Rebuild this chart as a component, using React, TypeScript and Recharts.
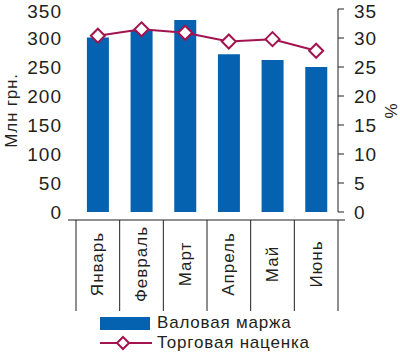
import React from "react";
import {
  ComposedChart,
  Bar,
  Line,
  XAxis,
  YAxis,
  Legend,
} from "recharts";

const months = ["Январь", "Февраль", "Март", "Апрель", "Май", "Июнь"];
const grossMargin = [301, 312, 331, 272, 262, 250];
const tradeMarkup = [30.4, 31.5, 30.9, 29.4, 29.8, 27.8];
const leftTicks = [0, 50, 100, 150, 200, 250, 300, 350];
const rightTicks = [0, 5, 10, 15, 20, 25, 30, 35];

const data = months.map((month, i) => ({
  month,
  margin: grossMargin[i],
  markup: tradeMarkup[i],
}));

const BAR = "#0562b0";
const LINE = "#a3134f";
const TEXT = "#231f20";
const FONT = "'Liberation Sans', Arial, sans-serif";

function MonthTick(props: any) {
  const { x, y, payload, index, visibleTicksCount } = props;
  const half = payload && payload.offset ? payload.offset : 21.8;
  const left = x - half;
  const right = x + half;
  const last = index === visibleTicksCount - 1;
  return (
    <g>
      <line x1={index === 0 ? left - 8 : left} x2={last ? right + 7 : right} y1={y} y2={y} stroke={TEXT} strokeWidth={1} />
      <line x1={left} x2={left} y1={y} y2={y + 91} stroke={TEXT} strokeWidth={1} />
      {last && <line x1={right} x2={right} y1={y} y2={y + 91} stroke={TEXT} strokeWidth={1} />}
      <text
        x={x}
        y={y + 44}
        transform={`rotate(-90 ${x} ${y + 44})`}
        textAnchor="middle"
        dominantBaseline="central"
        fill={TEXT}
        fontSize={17}
        letterSpacing={1}
        fontFamily={FONT}
      >
        {payload.value}
      </text>
    </g>
  );
}

function AxisTitle(props: any) {
  const { viewBox, value, dx } = props;
  const cx = viewBox.x + dx;
  const cy = viewBox.y + viewBox.height / 2;
  return (
    <text
      x={cx}
      y={cy}
      transform={`rotate(-90 ${cx} ${cy})`}
      textAnchor="middle"
      dominantBaseline="central"
      fill={TEXT}
      fontSize={17}
      letterSpacing={0.8}
      fontFamily={FONT}
    >
      {value}
    </text>
  );
}

function LegendBox() {
  return (
    <div style={{ height: 54, position: "relative", fontFamily: FONT, color: TEXT, fontSize: 17, letterSpacing: 0.8 }}>
      <div style={{ position: "absolute", left: 100, top: 10, display: "flex", alignItems: "center" }}>
        <svg width={50} height={13}>
          <rect x={0} y={0} width={50} height={13} fill={BAR} />
        </svg>
        <span style={{ marginLeft: 7 }}>Валовая маржа</span>
      </div>
      <div style={{ position: "absolute", left: 100, top: 30, display: "flex", alignItems: "center" }}>
        <svg width={52} height={16}>
          <line x1={0} x2={52} y1={8} y2={8} stroke={LINE} strokeWidth={2} />
          <path d="M23 2 L29 8 L23 14 L17 8 Z" fill="#fff" stroke={LINE} strokeWidth={2} />
        </svg>
        <span style={{ marginLeft: 5 }}>Торговая наценка</span>
      </div>
    </div>
  );
}

function Diamond(props: any) {
  const { cx, cy } = props;
  if (cx == null || cy == null) return null;
  return <path d={`M${cx} ${cy - 7} L${cx + 7} ${cy} L${cx} ${cy + 7} L${cx - 7} ${cy} Z`} fill="#fff" stroke={LINE} strokeWidth={2} />;
}

export default function App() {
  return (
    <div style={{ position: "absolute", left: 0, top: 0, width: 400, height: 357, background: "#fff" }}>
      <ComposedChart
        width={400}
        height={357}
        data={data}
        margin={{ top: 9, right: 0, bottom: 0, left: 0 }}
        barCategoryGap="25%"
      >
        <XAxis dataKey="month" xAxisId="x" height={91} axisLine={false} tickLine={false} tick={<MonthTick />} interval={0} />
        <YAxis
          yAxisId="left"
          width={76}
          domain={[0, 350]}
          ticks={leftTicks}
          axisLine={false}
          tickLine={false}
          tickMargin={8}
          tick={{ fill: TEXT, fontSize: 19, fontFamily: FONT, letterSpacing: 1 }}
          label={<AxisTitle value="Млн грн." dx={11} />}
        />
        <YAxis
          yAxisId="right"
          orientation="right"
          width={62}
          domain={[0, 35]}
          ticks={rightTicks}
          axisLine={{ stroke: TEXT }}
          tickLine={{ stroke: TEXT }}
          tickSize={6}
          tickMargin={10}
          tick={{ fill: TEXT, fontSize: 19, fontFamily: FONT, letterSpacing: 1, textAnchor: "start" }}
          label={<AxisTitle value="%" dx={53} />}
        />
        <Bar xAxisId="x" yAxisId="left" dataKey="margin" fill={BAR} isAnimationActive={false} />
        <Line
          xAxisId="x"
          yAxisId="right"
          dataKey="markup"
          stroke={LINE}
          strokeWidth={2}
          dot={<Diamond />}
          activeDot={false}
          isAnimationActive={false}
        />
        <Legend verticalAlign="bottom" content={() => <LegendBox />} />
      </ComposedChart>
    </div>
  );
}
